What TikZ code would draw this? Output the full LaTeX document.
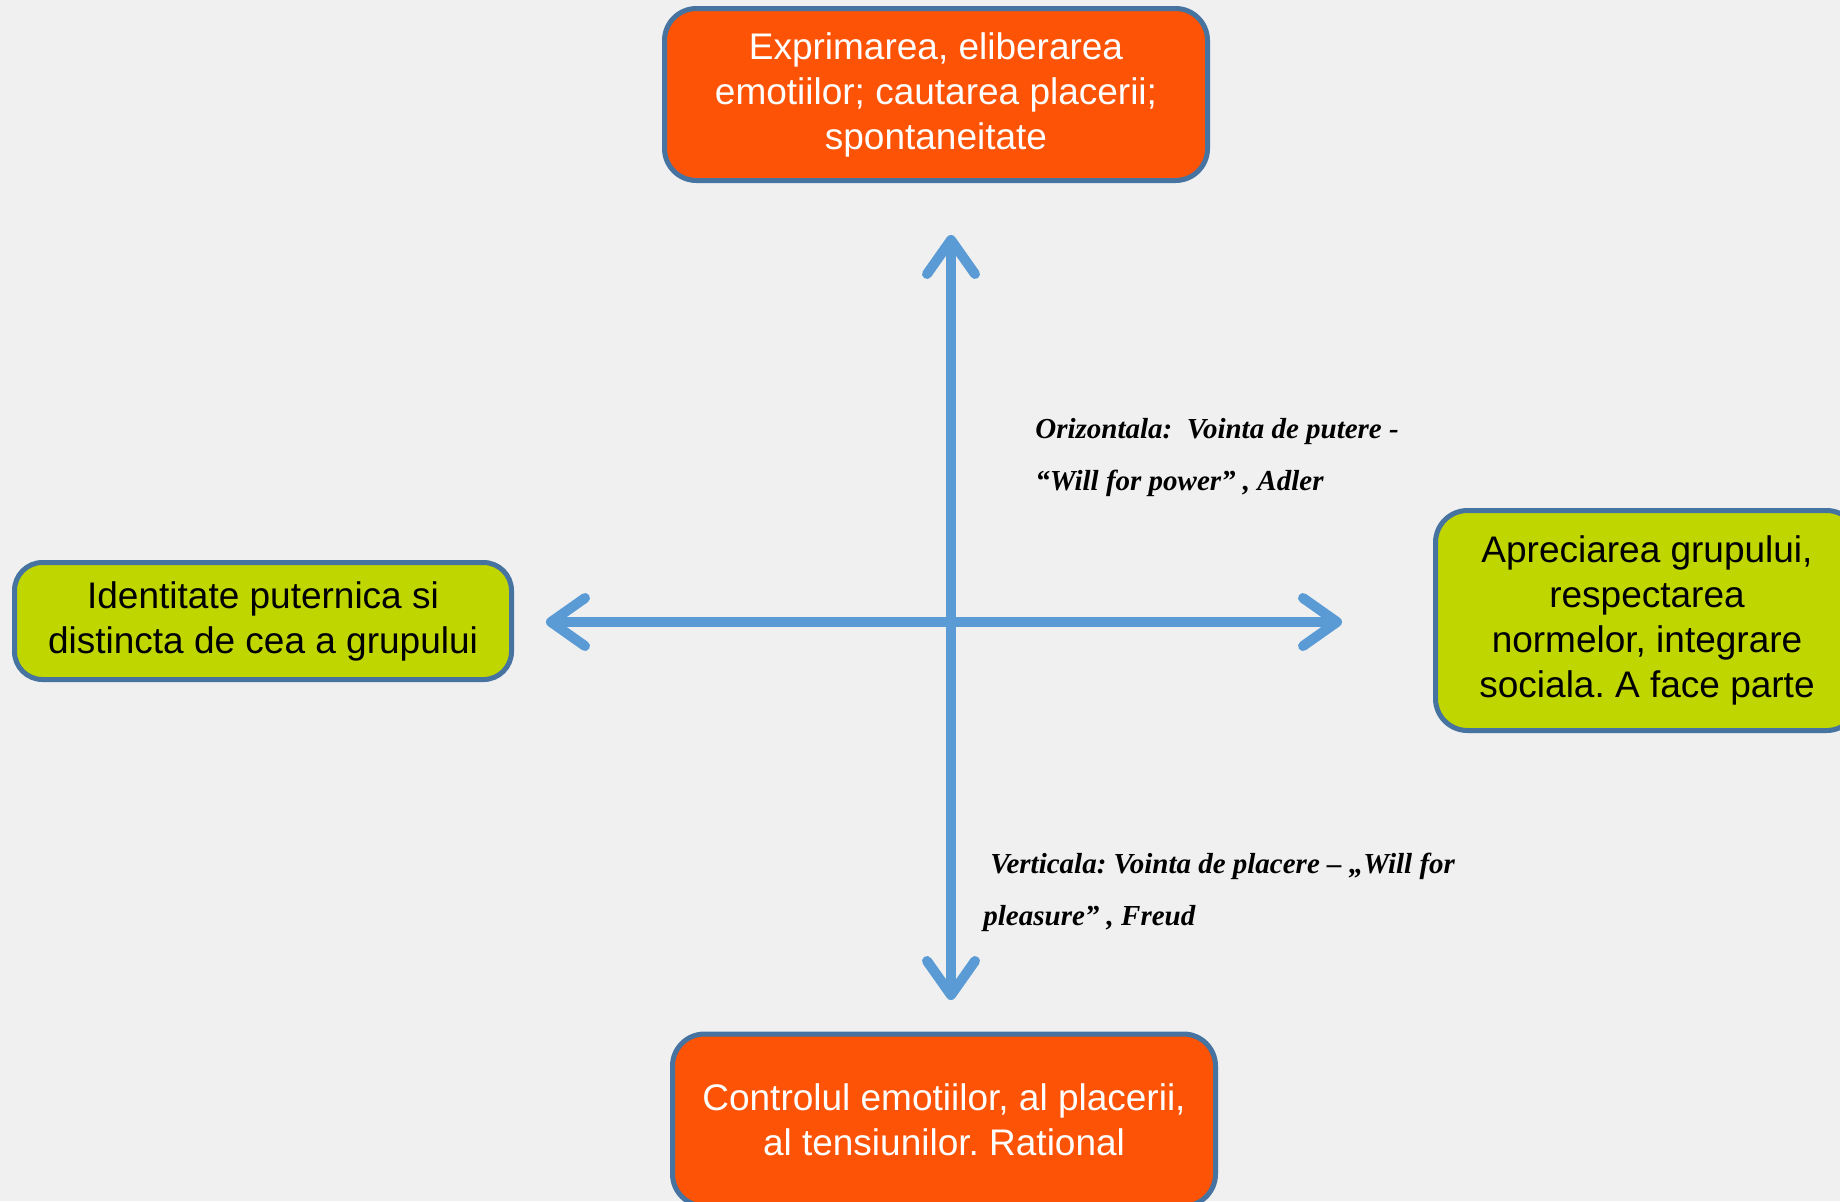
\documentclass[tikz,border=0pt]{standalone}
\usepackage{fontspec}
\setmainfont{Liberation Sans}
\newfontfamily\notefont[Ligatures=TeX]{Liberation Serif}
\usetikzlibrary{arrows.meta}
\frenchspacing

\definecolor{bgcol}{RGB}{239,240,239}
\definecolor{warmbox}{RGB}{252,83,7}
\definecolor{limebox}{RGB}{191,214,0}
\definecolor{boxline}{RGB}{70,115,160}
\definecolor{axiscol}{RGB}{91,155,213}

\begin{document}
\begin{tikzpicture}[x=0.5pt, y=-0.5pt]

      \tikzset{quad/.style={draw=boxline, line width=2.5pt, rounded corners=16pt, align=center, inner sep=0pt,
                            font=\fontsize{18.5pt}{22.5pt}\selectfont},
               warm/.style={quad, fill=warmbox, text=white},
               lime/.style={quad, fill=limebox, text=black},
               axis/.style={draw=axiscol, line width=5pt, {Straight Barb[length=17pt, width=24pt, round]}-{Straight Barb[length=17pt, width=24pt, round]}},
               note/.style={align=left, inner sep=0pt, font=\notefont\itshape\bfseries\fontsize{14.5pt}{26pt}\selectfont}}
      \useasboundingbox (0,0) rectangle (1840,1201);
      \fill[bgcol] (0,0) rectangle (1840,1201);
      \clip (0,0) rectangle (1840,1201);
%% Boxes
      	\node[warm, minimum width=271.5pt, minimum height=86pt] (pleasure) at (936,94.5) {Exprimarea, eliberarea\\emotiilor; cautarea placerii;\\spontaneitate};
      	\node[warm, minimum width=271.5pt, minimum height=86pt] (control) at (944,1120) {Controlul emotiilor, al placerii,\\al tensiunilor. Rational};
    	\node[lime, minimum width=248.5pt, minimum height=58.5pt, rounded corners=14pt] (identity) at (263,621) {Identitate puternica si\\distincta de cea a grupului};
  	    \node[lime, minimum width=211.5pt, minimum height=110pt] (group) at (1647,620.5) {Apreciarea grupului,\\respectarea\\normelor, integrare\\sociala. A face parte};
%% Axis ends
     	\coordinate (up) at (951,235);
     	\coordinate (down) at (951,1000);
     	\coordinate (west) at (546,622);
     	\coordinate (east) at (1342,622);
%Axes
		\draw[axis] (west) -- (east);
		\draw[axis] (down) -- (up);
%Notes
		\node[note, anchor=base west] (horiz) at (1035,490) {Orizontala:\ \ Vointa de putere -\\\textquotedblleft Will for power\textquotedblright\ , Adler};
		\node[note, anchor=base west] (vert) at (983,925) {\hspace{3.5pt}Verticala: Vointa de placere -- \quotedblbase Will for\\pleasure\textquotedblright\ , Freud};

	\end{tikzpicture}
\end{document}
